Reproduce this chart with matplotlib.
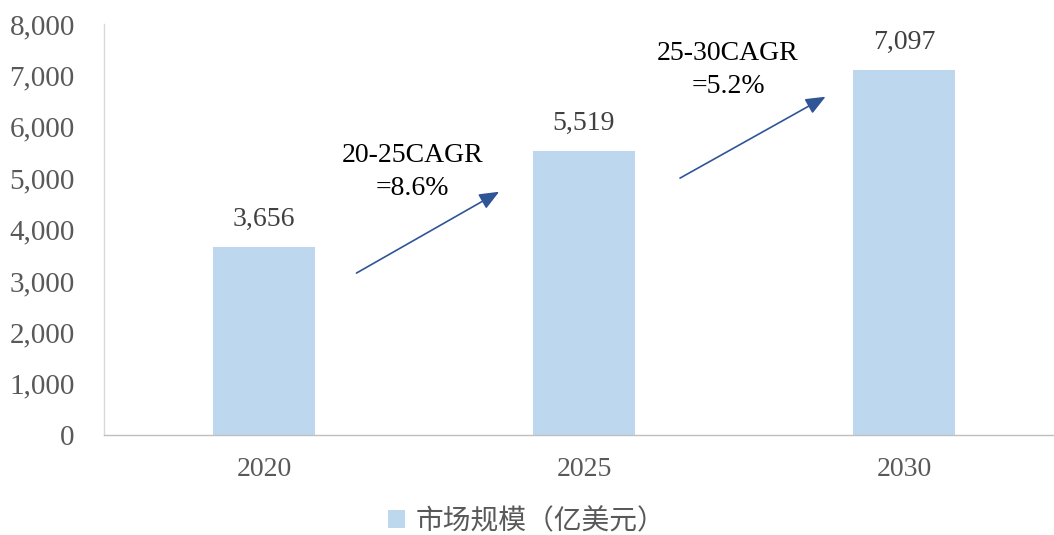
import matplotlib
matplotlib.use("Agg")
import matplotlib.pyplot as plt
from matplotlib.patches import Patch

years = ["2020", "2025", "2030"]
values = [3656, 5519, 7097]
cagr_labels = ["20-25CAGR\n=8.6%", "25-30CAGR\n=5.2%"]
legend_label = "市场规模（亿美元）"
yticks = [0, 1000, 2000, 3000, 4000, 5000, 6000, 7000, 8000]

bar_color = "#BDD7EE"
arrow_color = "#2F5597"
text_gray = "#595959"

fig = plt.figure(figsize=(10.54, 5.35), dpi=100)
ax = fig.add_axes([104/1054, 100/535, 960/1054, 411/535])

x = list(range(len(years)))
ax.bar(x, values, width=0.32, color=bar_color, zorder=2)
ax.set_xlim(-0.5, 2.5)
ax.set_ylim(0, 8000)
ax.set_yticks(yticks)
ax.set_yticklabels([f"{v:,}" for v in yticks], family="Liberation Serif", fontsize=21, color=text_gray)
ax.set_xticks(x)
ax.set_xticklabels(years, family="Liberation Serif", fontsize=20, color=text_gray)
ax.tick_params(axis="both", length=0)
ax.tick_params(axis="y", pad=21)
ax.tick_params(axis="x", pad=16)

for s in ["top", "right"]:
    ax.spines[s].set_visible(False)
ax.spines["left"].set_color("#D9D9D9")
ax.spines["bottom"].set_color("#BFBFBF")
ax.spines["left"].set_linewidth(1.0)
ax.spines["bottom"].set_linewidth(1.0)

for xi, v in zip(x, values):
    ax.annotate(f"{v:,}", (xi, v), xytext=(0, 11), textcoords="offset points",
                ha="center", va="bottom", family="Liberation Serif", fontsize=20, color="#404040")

# CAGR arrows and labels
arrows = [((0.289, 3152), (0.735, 4735)), ((1.30, 5000), (1.755, 6585))]
label_pos = [(0.463, 5117), (1.45, 7101)]
for (start, end), lbl, pos in zip(arrows, cagr_labels, label_pos):
    ax.annotate("", xy=end, xytext=start,
                arrowprops=dict(arrowstyle="-|>,head_length=1.2,head_width=0.5",
                                color=arrow_color, lw=1.2, shrinkA=0, shrinkB=0))
    ax.text(pos[0], pos[1], lbl, ha="center", va="center", family="Liberation Serif",
            fontsize=20, color="black", linespacing=1.45)

handle = Patch(facecolor=bar_color, edgecolor="none")
fig.legend([handle], [legend_label], loc="center", bbox_to_anchor=(0.5, 0.026),
           frameon=False, prop={"family": ["Noto Sans CJK SC", "DejaVu Sans"], "size": 20},
           labelcolor=text_gray, handlelength=0.6, handleheight=0.6, handletextpad=0.4)

fig.savefig("out.png", dpi=100)
